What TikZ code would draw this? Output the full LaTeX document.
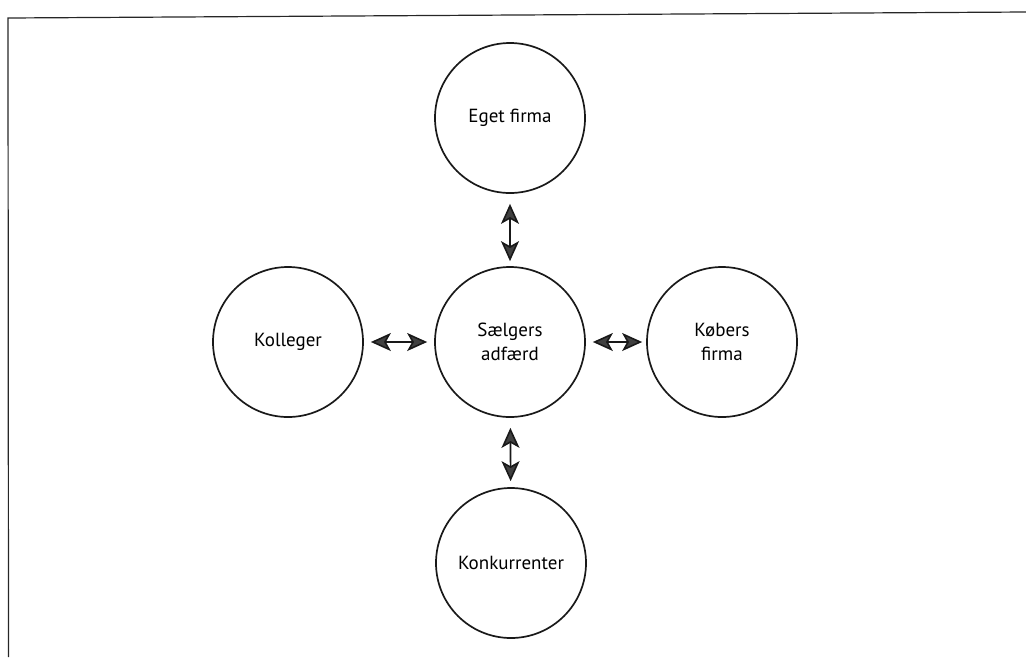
\documentclass[tikz,border=0pt]{standalone}
\usepackage{fontspec}
\setmainfont{PT Sans}
\usetikzlibrary{arrows.meta}
\begin{document}
\begin{tikzpicture}[x=1pt,y=-1pt,
  actor/.style={circle, draw=black!90, line width=1.7pt, minimum size=150pt,
    inner sep=0pt, align=center, font=\fontsize{19}{24}\selectfont},
  hd/.tip={Stealth[length=20pt,width=18pt,inset=5pt,fill=black!75]},
  link/.style={line width=1.6pt, draw=black!90, {hd}-{hd}},
  frameline/.style={line width=1.2pt, draw=black!85}]
  \useasboundingbox (0,0) rectangle (1026,657);
  % open frame, cut at the right and bottom
  \draw[frameline] (8.5,657) -- (8,18) -- (1026,12);

  % the five circles
  \node[actor] (C) at (510,342) {Sælgers\\adfærd};
  \node[actor] (T) at (510,118) {Eget firma};
  \node[actor] (B) at (511,563) {Konkurrenter};
  \node[actor] (L) at (288,342) {Kolleger};
  \node[actor] (R) at (722,342) {Købers\\firma};

  % two-way links from the centre
  \draw[link, shorten <=10pt, shorten >=5pt] (T) -- (C);
  \draw[link, shorten <=10pt, shorten >=6pt] (C) -- (B);
  \draw[link, shorten <=7pt, shorten >=7pt] (L) -- (C);
  \draw[link, shorten <=7pt, shorten >=4pt] (C) -- (R);
\end{tikzpicture}
\end{document}
